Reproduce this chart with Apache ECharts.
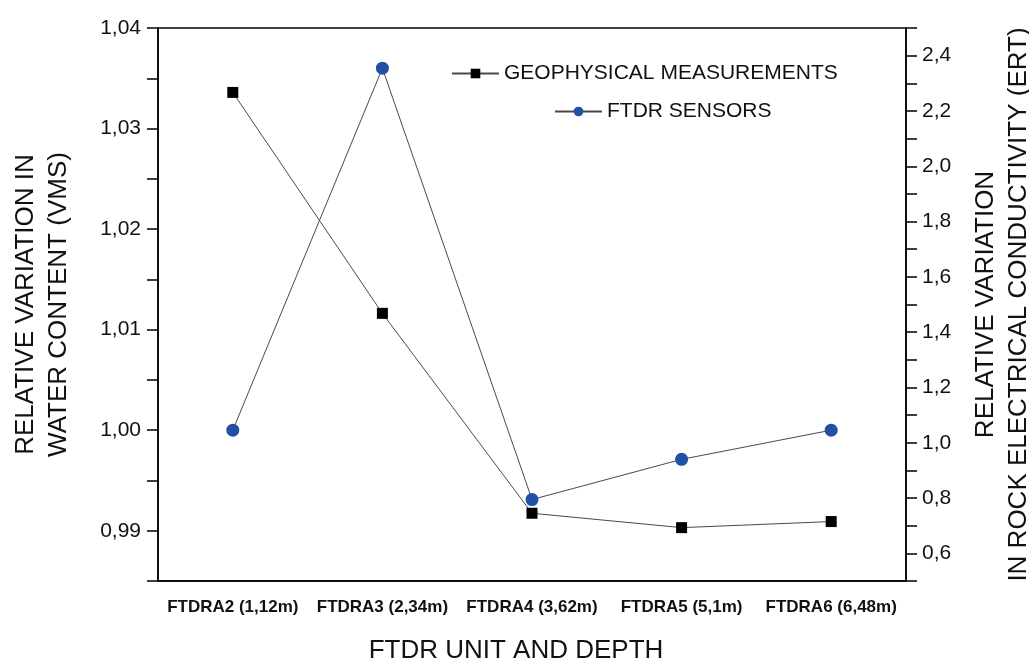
<!DOCTYPE html>
<html>
<head>
<meta charset="utf-8">
<title>FTDR vs ERT relative variation</title>
<script src="https://cdn.jsdelivr.net/npm/echarts@6/dist/echarts.min.js"></script>
<style>
  html, body { margin: 0; padding: 0; background: #ffffff; }
  #chart { width: 1029px; height: 663px; }
</style>
</head>
<body>
<div id="chart"></div>
<script>
// FTDR units with their installation depth
const categories = ['FTDRA2 (1,12m)', 'FTDRA3 (2,34m)', 'FTDRA4 (3,62m)', 'FTDRA5 (5,1m)', 'FTDRA6 (6,48m)'];
// Relative variation in rock electrical conductivity (ERT), right axis
const geophysicalValues = [2.267, 1.468, 0.745, 0.693, 0.715];
// Relative variation in water content (VMS) from FTDR sensors, left axis
const ftdrValues = [1.000, 1.036, 0.9931, 0.9971, 1.000];

const FONT = '"Liberation Sans", Arial, sans-serif';
const INK = '#111111';

function commaLabel(v, digits) {
  return v.toFixed(digits).replace('.', ',');
}

const chart = echarts.init(document.getElementById('chart'), null, { renderer: 'canvas' });

chart.setOption({
  backgroundColor: '#ffffff',
  animation: false,
  grid: {
    left: 158, right: 123, top: 28, bottom: 82,
    outerBoundsMode: 'none', containLabel: false,
    show: true, borderColor: '#000', borderWidth: 1.5, backgroundColor: 'transparent'
  },
  legend: [
    {
      left: 446, top: 58, orient: 'vertical',
      data: ['GEOPHYSICAL MEASUREMENTS'],
      itemWidth: 47, itemHeight: 12,
      textStyle: { fontFamily: FONT, fontSize: 21, color: INK }
    },
    {
      left: 549, top: 96, orient: 'vertical',
      data: ['FTDR SENSORS'],
      itemWidth: 47, itemHeight: 12,
      textStyle: { fontFamily: FONT, fontSize: 21, color: INK }
    }
  ],
  xAxis: [
    {
      type: 'category', data: categories, boundaryGap: true, position: 'bottom',
      name: 'FTDR UNIT AND DEPTH', nameLocation: 'middle', nameGap: 57,
      nameTextStyle: { fontFamily: FONT, fontSize: 26, color: INK, padding: [0, 32, 0, 0] },
      axisLine: { lineStyle: { color: '#000', width: 1.5 } },
      axisTick: { alignWithLabel: true, length: 12, lineStyle: { color: '#000', width: 1.5 } },
      axisLabel: { interval: 0, hideOverlap: false, fontFamily: FONT, fontSize: 17, fontWeight: 'bold', color: INK, margin: 18 },
      splitLine: { show: false }
    },
    {
      type: 'category', data: categories, boundaryGap: true, position: 'bottom',
      axisLine: { show: false },
      axisTick: { alignWithLabel: false, interval: 0, length: 7, lineStyle: { color: '#000', width: 1.5 } },
      axisLabel: { show: false },
      splitLine: { show: false }
    }
  ],
  yAxis: [
    {
      type: 'value', position: 'left', min: 0.985, max: 1.04, interval: 0.005,
      name: 'RELATIVE VARIATION IN\nWATER CONTENT (VMS)', nameLocation: 'middle', nameGap: 83, nameRotate: 90,
      nameTextStyle: { fontFamily: FONT, fontSize: 26, color: INK, lineHeight: 33 },
      axisLine: { show: true, lineStyle: { color: '#000', width: 1.5 } },
      axisTick: { show: true, length: 11, lineStyle: { color: '#000', width: 1.5 } },
      axisLabel: {
        fontFamily: FONT, fontSize: 21, color: INK, margin: 17,
        formatter: v => (Math.round(v * 1000) % 10 === 0 ? commaLabel(v, 2) : '')
      },
      splitLine: { show: false }
    },
    {
      type: 'value', position: 'right', min: 0.5, max: 2.5, interval: 0.1,
      name: 'RELATIVE VARIATION\nIN ROCK ELECTRICAL CONDUCTIVITY (ERT)', nameLocation: 'middle', nameGap: 63, nameRotate: 90,
      nameTextStyle: { fontFamily: FONT, fontSize: 26, color: INK, lineHeight: 33 },
      axisLine: { show: true, lineStyle: { color: '#000', width: 1.5 } },
      axisTick: { show: true, length: 11, lineStyle: { color: '#000', width: 1.5 } },
      axisLabel: {
        fontFamily: FONT, fontSize: 21, color: INK, margin: 16,
        formatter: v => (Math.round(v * 10) % 2 === 0 ? commaLabel(v, 1) : '')
      },
      splitLine: { show: false }
    }
  ],
  series: [
    {
      name: 'GEOPHYSICAL MEASUREMENTS', type: 'line', xAxisIndex: 0, yAxisIndex: 1,
      data: geophysicalValues,
      symbol: 'rect', symbolSize: 11,
      itemStyle: { color: '#000000' },
      lineStyle: { color: '#4a4a4a', width: 1 },
      z: 3
    },
    {
      name: 'FTDR SENSORS', type: 'line', xAxisIndex: 0, yAxisIndex: 0,
      data: ftdrValues,
      symbol: 'circle', symbolSize: 13,
      itemStyle: { color: '#2150a6' },
      lineStyle: { color: '#4a4a4a', width: 1 },
      z: 4
    }
  ]
});
</script>
</body>
</html>
